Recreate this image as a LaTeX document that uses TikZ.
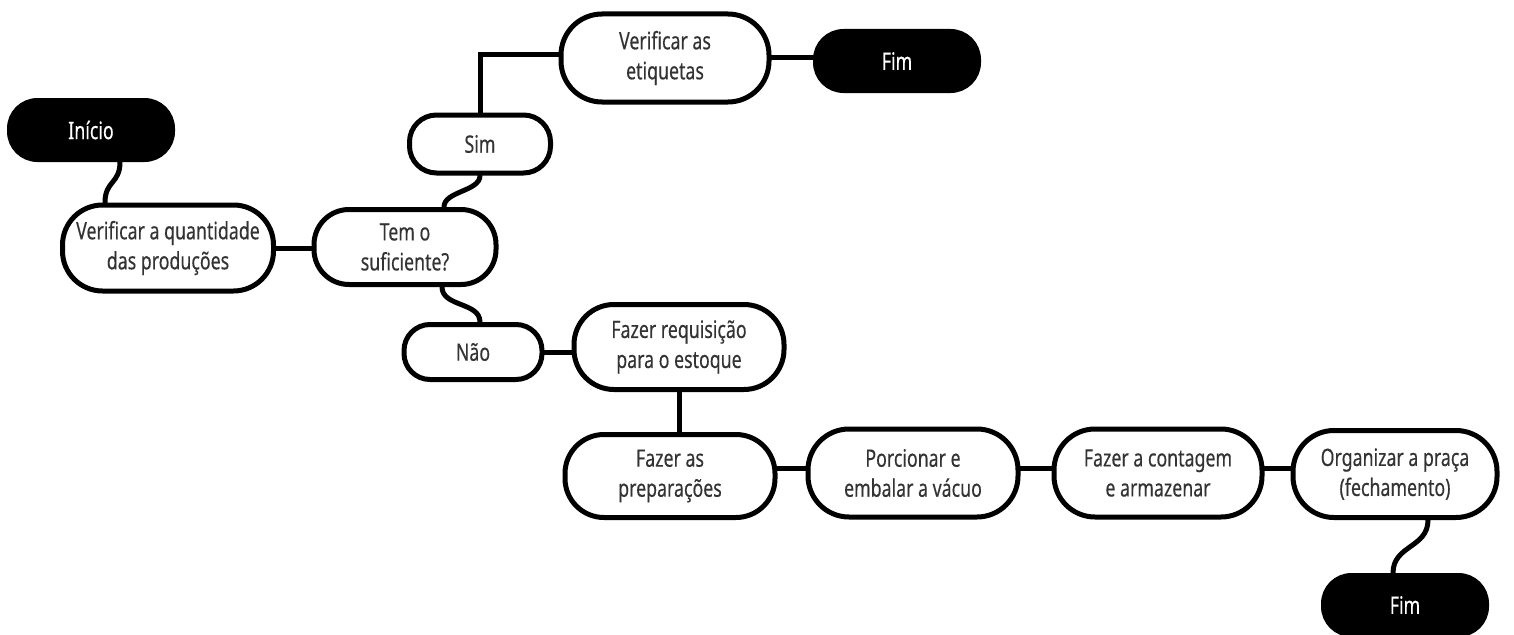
\documentclass[tikz,border=0pt]{standalone}
\usepackage{fontspec}
\setmainfont[FakeStretch=0.74, FakeBold=0.3]{Noto Sans}
\usetikzlibrary{calc}
\begin{document}
\begin{tikzpicture}[x=1pt,y=-1pt,
  every node/.style={align=center, inner sep=0pt,
    font=\fontsize{24}{30}\selectfont},
  % white process box: width, height, corner radius
  proc/.style n args={3}{draw=black, line width=5pt, fill=white,
    text=black!80, minimum width=#1, minimum height=#2, rounded corners=#3},
  % black terminal box
  term/.style={draw=black, line width=5pt, fill=black, text=white,
    minimum width=163pt, minimum height=59pt, rounded corners=28pt},
  link/.style={draw=black, line width=5pt, line cap=round}]
\clip (0,0) rectangle (1514,634);
\fill[white] (0,0) rectangle (1514,634);

% nodes
\node[term] (ini) at (91,130) {Início};
\node[proc={211pt}{86pt}{40pt}] (vq) at (168,248) {Verificar a quantidade\\das produções};
\node[proc={182pt}{75pt}{35pt}] (tem) at (405,247) {Tem o\\suficiente?};
\node[proc={141pt}{58pt}{27pt}] (sim) at (480,144) {Sim};
\node[proc={208pt}{88pt}{41pt}] (vet) at (665,58) {Verificar as\\etiquetas};
\node[term] (fim1) at (897,61) {Fim};
\node[proc={138pt}{55pt}{26pt}] (nao) at (473,352) {Não};
\node[proc={210pt}{85pt}{40pt}] (req) at (679,347) {Fazer requisição\\para o estoque};
\node[proc={210pt}{83pt}{39pt}] (prep) at (670,476) {Fazer as\\preparações};
\node[proc={210pt}{88pt}{41pt}] (porc) at (913,473) {Porcionar e\\embalar a vácuo};
\node[proc={208pt}{88pt}{41pt}] (cont) at (1158,473) {Fazer a contagem\\e armazenar};
\node[proc={204pt}{87pt}{41pt}] (org) at (1395,474) {Organizar a praça\\(fechamento)};
\node[term] (fim2) at (1405,605) {Fim};

% connectors
\draw[link] ([xshift=29pt]ini.south) .. controls +(0,22) and +(0,-22) .. ([xshift=-63pt]vq.north);
\draw[link] (vq.east) -- (vq.east -| tem.west);
\draw[link] ([xshift=39pt]tem.north) .. controls +(0,-16) and +(0,16) .. (sim.south);
\draw[link] (sim.north) |- ([yshift=3pt]vet.west);
\draw[link] (vet.east) -- (vet.east -| fim1.west);
\draw[link] ([xshift=37pt]tem.south) .. controls +(0,20) and +(0,-20) .. ([xshift=7pt]nao.north);
\draw[link] (nao.east) -- (nao.east -| req.west);
\draw[link] (req.south) -- (req.south |- prep.north);
\draw[link] ([yshift=5pt]porc.west) -- ([yshift=5pt]porc.west -| prep.east);
\draw[link] ([yshift=5pt]porc.east) -- ([yshift=5pt]porc.east -| cont.west);
\draw[link] ([yshift=5pt]cont.east) -- ([yshift=5pt]cont.east -| org.west);
\draw[link] ([xshift=33pt]org.south) .. controls +(0,28) and +(0,-28) .. ([xshift=-12pt]fim2.north);
\end{tikzpicture}
\end{document}
